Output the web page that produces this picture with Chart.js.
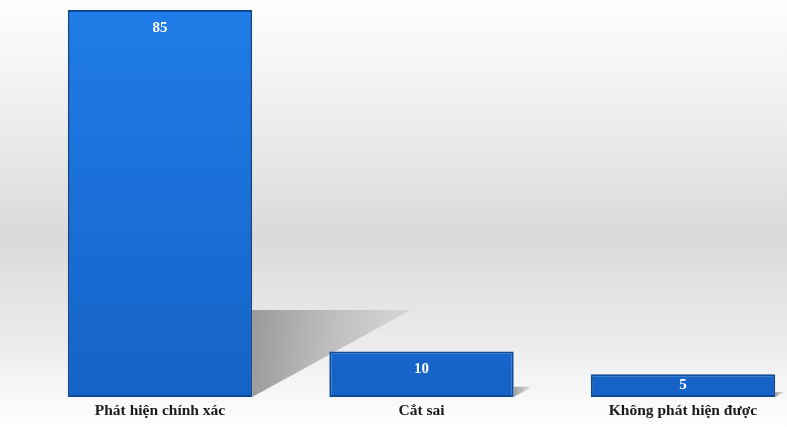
<!DOCTYPE html>
<html>
<head>
<meta charset="utf-8">
<script src="https://cdn.jsdelivr.net/npm/chart.js@4/dist/chart.umd.min.js"></script>
<style>
  html, body { margin: 0; padding: 0; background: #fff; overflow: hidden; }
  canvas { display: block; }
</style>
</head>
<body>
<canvas id="chart" width="787" height="427"></canvas>
<script>
const categories = ['Phát hiện chính xác', 'Cắt sai', 'Không phát hiện được'];
const counts = [85, 10, 5];

const serif = '"Liberation Serif", "Times New Roman", serif';

// grey band behind everything
const backdrop = {
    id: 'backdrop',
    beforeDraw(c) {
        const ctx = c.ctx;
        const g = ctx.createLinearGradient(0, 0, 0, c.height);
        g.addColorStop(0, '#fefefe');
        g.addColorStop(0.3, '#ececec');
        g.addColorStop(0.55, '#dadada');
        g.addColorStop(0.8, '#ebebeb');
        g.addColorStop(1, '#ffffff');
        ctx.save();
        ctx.fillStyle = g;
        ctx.fillRect(0, 0, c.width, c.height);
        ctx.restore();
    }
};

// slanted shadow cast to the right of each bar
const castShadow = {
    id: 'castShadow',
    beforeDatasetsDraw(c) {
        const ctx = c.ctx;
        c.getDatasetMeta(0).data.forEach(bar => {
            const h = bar.base - bar.y;
            const right = bar.x + bar.width / 2;
            const dx = h * 0.41, dy = h * 0.225;
            const g = ctx.createLinearGradient(right, 0, right + dx, 0);
            g.addColorStop(0, 'rgba(140,140,140,0.85)');
            g.addColorStop(1, 'rgba(175,175,175,0.3)');
            ctx.save();
            ctx.fillStyle = g;
            ctx.beginPath();
            ctx.moveTo(right, bar.base - dy);
            ctx.lineTo(right + dx, bar.base - dy);
            ctx.lineTo(right, bar.base);
            ctx.closePath();
            ctx.fill();
            ctx.restore();
        });
    }
};

// white value inside the top of each bar
const valueLabels = {
    id: 'valueLabels',
    afterDatasetsDraw(c) {
        const ctx = c.ctx;
        ctx.save();
        ctx.fillStyle = '#ffffff';
        ctx.font = 'bold 15px ' + serif;
        ctx.textAlign = 'center';
        ctx.textBaseline = 'middle';
        c.getDatasetMeta(0).data.forEach((bar, i) => {
            const h = bar.base - bar.y;
            ctx.fillText(String(counts[i]), bar.x, bar.y + Math.min(18, h / 2));
        });
        ctx.restore();
    }
};

new Chart(document.getElementById('chart'), {
    type: 'bar',
    data: {
        labels: categories,
        datasets: [{
            data: counts,
            clip: false,
            backgroundColor: (ctx) => {
                const area = ctx.chart.chartArea;
                if (!area) return '#1b70da';
                const g = ctx.chart.ctx.createLinearGradient(0, area.top, 0, area.bottom);
                g.addColorStop(0, '#207ce8');
                g.addColorStop(1, '#1562c6');
                return g;
            },
            borderColor: '#0c4894',
            borderWidth: 2,
            borderSkipped: false,
            categoryPercentage: 1,
            barPercentage: 0.705
        }]
    },
    options: {
        responsive: false,
        animation: false,
        layout: { padding: { top: 10, left: 160, right: 104, bottom: 4 } },
        plugins: {
            legend: { display: false },
            tooltip: { enabled: false }
        },
        scales: {
            x: {
                offset: false,
                grid: { display: false },
                border: { display: false },
                afterFit(scale) { scale.height = 26; },
                ticks: {
                    color: '#1a1a1a',
                    padding: -3,
                    maxRotation: 0,
                    autoSkip: false,
                    font: { family: serif, size: 15.5, weight: 'bold' }
                }
            },
            y: {
                display: false,
                min: 0,
                max: 85
            }
        }
    },
    plugins: [backdrop, castShadow, valueLabels]
});
</script>
</body>
</html>
